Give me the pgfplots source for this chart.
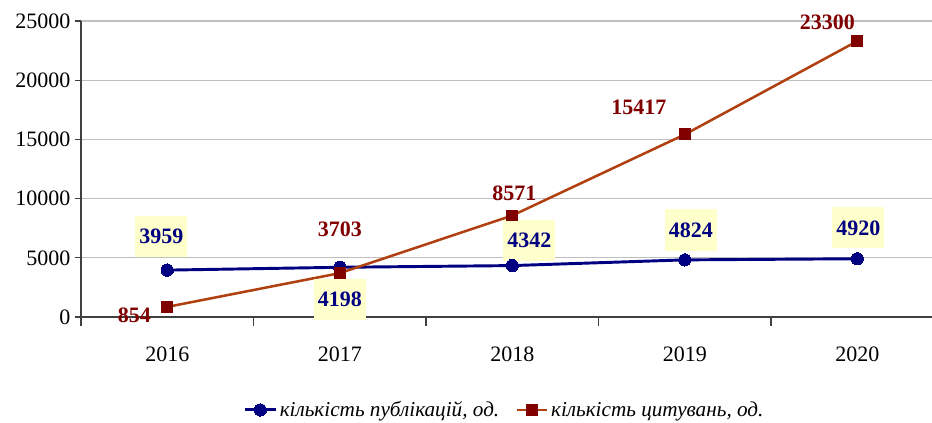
\documentclass[border=0pt]{standalone}
\usepackage{pgfplots}
\pgfplotsset{compat=1.18}
\usepackage{fontspec}
\setmainfont{Liberation Serif}
\definecolor{navy}{HTML}{000080}
\definecolor{dred}{HTML}{800000}
\definecolor{rline}{HTML}{B04010}
\definecolor{lbg}{HTML}{FFFFCC}
\definecolor{grid}{HTML}{C8C8C8}
\definecolor{axc}{HTML}{404040}
\begin{document}
\begin{tikzpicture}[x=0.75pt,y=0.75pt]
\begin{axis}[
  scale only axis,
  width=638.25pt, height=222pt,
  xmin=-0.5, xmax=4.433,
  ymin=0, ymax=25000,
  axis x line*=bottom, axis y line*=left,
  axis line style={axc, line width=0.9pt},
  xtick={0,1,2,3,4},
  xticklabels={2016,2017,2018,2019,2020},
  xmajorgrids=false, xminorgrids=false,
  major x tick style={draw=none},
  minor xtick={-0.5,0.5,1.5,2.5,3.5},
  minor x tick style={axc, line width=0.9pt},
  minor tick length=6.5pt,
  ytick={0,5000,10000,15000,20000,25000},
  yticklabels={0,5000,10000,15000,20000,25000},
  scaled y ticks=false,
  major y tick style={axc, line width=0.9pt},
  major tick length=4.5pt,
  tick align=outside,
  ymajorgrids=true,
  major grid style={grid, line width=0.8pt},
  tick label style={font=\fontsize{16.5}{18}\selectfont, black},
  xticklabel style={yshift=-14pt},
  legend columns=2,
  legend image code/.code={\draw[mark repeat=2,mark phase=2,#1] plot coordinates {(0pt,0pt) (11.5pt,0pt) (23pt,0pt)};},
  legend style={draw=none, fill=none, at={(0.498,-0.314)}, anchor=center,
    font=\fontsize{15.9}{18}\selectfont\itshape,
    nodes={inner xsep=2pt},
    /tikz/every even column/.append style={column sep=10pt}},
  clip=false,
]
\addplot[navy, line width=2.2pt, mark=*, mark size=4.6pt, mark options={fill=navy, draw=navy, line width=0pt}]
  coordinates {(0,3959) (1,4198) (2,4342) (3,4824) (4,4920)};
\addlegendentry{кількість публікацій, од.}
\addplot[rline, line width=1.9pt, mark=square*, mark size=4.1pt, mark options={fill=dred, draw=dred, line width=0pt}]
  coordinates {(0,854) (1,3703) (2,8571) (3,15417) (4,23300)};
\addlegendentry{кількість цитувань, од.}

\tikzset{bl/.style={fill=lbg, text=navy, font=\fontsize{16.5}{18}\selectfont\bfseries, inner xsep=3pt, inner ysep=10pt, text depth=0pt},
         rl/.style={text=dred, font=\fontsize{16.5}{18}\selectfont\bfseries, inner sep=1pt}}
\node[bl] at ([xshift=-4.5pt,yshift=25.5pt]axis cs:0,3959) {3959};
\node[bl] at ([xshift=0pt,yshift=-24pt]axis cs:1,4198) {4198};
\node[bl] at ([xshift=12.75pt,yshift=18.75pt]axis cs:2,4342) {4342};
\node[bl] at ([xshift=4.5pt,yshift=22.5pt]axis cs:3,4824) {4824};
\node[bl] at ([xshift=0.75pt,yshift=23.25pt]axis cs:4,4920) {4920};
\node[rl] at ([xshift=-24.75pt,yshift=-6pt]axis cs:0,854) {854};
\node[rl] at ([xshift=0pt,yshift=33pt]axis cs:1,3703) {3703};
\node[rl] at ([xshift=1.5pt,yshift=16.5pt]axis cs:2,8571) {8571};
\node[rl] at ([xshift=-34.5pt,yshift=20.25pt]axis cs:3,15417) {15417};
\node[rl] at ([xshift=-22.5pt,yshift=14.25pt]axis cs:4,23300) {23300};
\end{axis}
\pgfresetboundingbox
\path (-60.75pt,-79.5pt) rectangle (638.25pt,237.75pt);
\end{tikzpicture}
\end{document}
